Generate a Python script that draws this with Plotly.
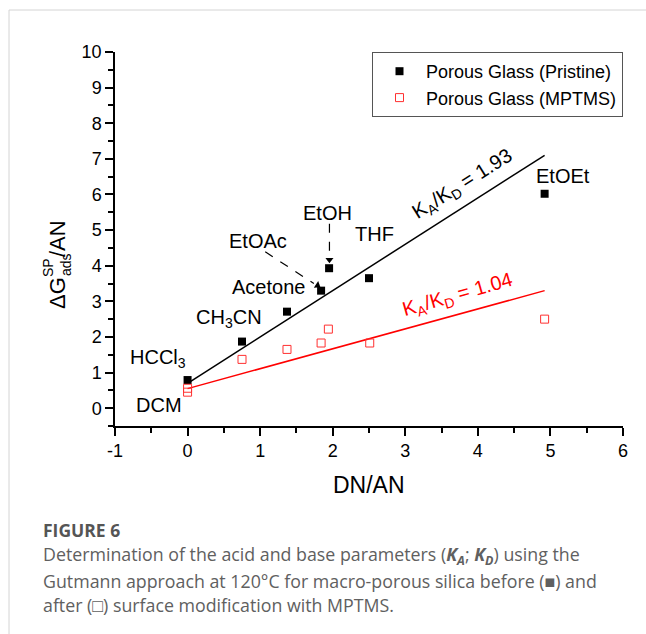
import plotly.graph_objects as go

# ---- data ----
dn_an_pristine = [0.0, 0.75, 1.37, 1.84, 1.95, 2.50, 4.92]
g_pristine = [0.79, 1.87, 2.71, 3.30, 3.93, 3.65, 6.02]

dn_an_mptms = [0.0, 0.0, 0.75, 1.37, 1.84, 1.94, 2.51, 4.92]
g_mptms = [0.56, 0.45, 1.37, 1.65, 1.83, 2.22, 1.83, 2.50]

fit_x = [0.0, 4.92]
fit_pristine = [0.70, 7.10]
fit_mptms = [0.55, 3.30]

x_ticks = [-1, 0, 1, 2, 3, 4, 5, 6]
x_ticktext = ["-1", "0", "1", "2", "3", "4", "5", "6"]
y_ticks = [0, 1, 2, 3, 4, 5, 6, 7, 8, 9, 10]

labels = ["HCCl<sub>3</sub>", "DCM", "CH<sub>3</sub>CN", "Acetone", "EtOAc", "EtOH", "THF", "EtOEt"]
label_x = [-0.41, -0.39, 0.57, 1.12, 0.97, 1.93, 2.58, 5.17]
label_y = [1.40, 0.09, 2.52, 3.40, 4.68, 5.49, 4.90, 6.51]

FONT = "Liberation Sans, Arial, sans-serif"
W, H = 646, 634
L, R, T, B = 115, 23, 52, 208
PW, PH = W - L - R, H - T - B


def px(xp):
    return (xp - L) / PW


def py(yp):
    return (H - B - yp) / PH


fig = go.Figure()

fig.add_trace(go.Scatter(x=fit_x, y=fit_pristine, mode="lines",
                         line=dict(color="black", width=1.5), showlegend=False, hoverinfo="skip"))
fig.add_trace(go.Scatter(x=fit_x, y=fit_mptms, mode="lines",
                         line=dict(color="#ff0000", width=1.5), showlegend=False, hoverinfo="skip"))
fig.add_trace(go.Scatter(x=dn_an_pristine, y=g_pristine, mode="markers",
                         name="Porous Glass (Pristine)",
                         marker=dict(symbol="square", size=8, color="black")))
fig.add_trace(go.Scatter(x=dn_an_mptms, y=g_mptms, mode="markers",
                         name="Porous Glass (MPTMS)",
                         marker=dict(symbol="square-open", size=8, color="#ff3030",
                                     line=dict(width=1))))
# arrow heads for the dashed pointer arrows
fig.add_trace(go.Scatter(x=[1.79, 1.955], y=[3.45, 4.17], mode="markers", showlegend=False,
                         hoverinfo="skip",
                         marker=dict(symbol="triangle-right", size=7, color="black",
                                     angle=[33, 90])))

annotations = []
for t, xx, yy in zip(labels, label_x, label_y):
    annotations.append(dict(x=xx, y=yy, xref="x", yref="y", text=t, showarrow=False,
                            font=dict(family=FONT, size=20, color="black"),
                            xanchor="center", yanchor="middle"))

# fit labels
annotations.append(dict(x=3.79, y=6.28, xref="x", yref="y",
                        text="K<sub>A</sub>/K<sub>D</sub> = 1.93", showarrow=False, textangle=-32,
                        font=dict(family=FONT, size=20, color="black")))
annotations.append(dict(x=3.72, y=3.17, xref="x", yref="y",
                        text="K<sub>A</sub>/K<sub>D</sub> = 1.04", showarrow=False, textangle=-16,
                        font=dict(family=FONT, size=20, color="#ff0000")))

# y-axis title built from pieces (stacked super/subscript)
annotations += [
    dict(x=px(57), y=py(293), xref="paper", yref="paper", text="\u0394G", textangle=-90,
         showarrow=False, font=dict(family=FONT, size=22, color="black"),
         xanchor="center", yanchor="middle"),
    dict(x=px(48), y=py(268), xref="paper", yref="paper", text="SP", textangle=-90,
         showarrow=False, font=dict(family=FONT, size=14, color="black"),
         xanchor="center", yanchor="middle"),
    dict(x=px(66), y=py(265), xref="paper", yref="paper", text="ads", textangle=-90,
         showarrow=False, font=dict(family=FONT, size=14, color="black"),
         xanchor="center", yanchor="middle"),
    dict(x=px(57), y=py(239), xref="paper", yref="paper", text="/AN", textangle=-90,
         showarrow=False, font=dict(family=FONT, size=22, color="black"),
         xanchor="center", yanchor="middle"),
]

# x-axis title
annotations.append(dict(x=px(369), y=py(485), xref="paper", yref="paper", text="DN/AN",
                        showarrow=False, font=dict(family=FONT, size=23, color="black"),
                        xanchor="center", yanchor="middle"))

# caption
CAP = "Open Sans, Noto Sans, sans-serif"
cap_color = "#606060"
annotations.append(dict(x=px(41), y=py(530), xref="paper", yref="paper", text="<b>FIGURE 6</b>",
                        showarrow=False, font=dict(family=CAP, size=17.5, color="#555555"),
                        xanchor="left", yanchor="middle"))
cap_lines = [
    "Determination of the acid and base parameters (<b><i>K<sub>A</sub></i></b>; <b><i>K<sub>D</sub></i></b>) using the",
    "Gutmann approach at 120\u00b0C for macro-porous silica before (\u25a0) and",
    "after (\u25a1) surface modification with MPTMS.",
]
cap_y = [555, 581, 605]
for line, yy in zip(cap_lines, cap_y):
    annotations.append(dict(x=px(41), y=py(yy), xref="paper", yref="paper", text=line,
                            showarrow=False, font=dict(family=CAP, size=17.8, color=cap_color),
                            xanchor="left", yanchor="middle"))

shapes = [
    # dashed arrow shafts
    dict(type="line", xref="x", yref="y", x0=1.07, y0=4.39, x1=1.74, y1=3.50,
         line=dict(color="black", width=1.2, dash="dash")),
    dict(type="line", xref="x", yref="y", x0=1.955, y0=5.18, x1=1.955, y1=4.25,
         line=dict(color="black", width=1.2, dash="dash")),
    # card border (top and left)
    dict(type="line", xref="paper", yref="paper", x0=px(9), y0=py(10), x1=px(646), y1=py(10),
         line=dict(color="#d4d4d4", width=1)),
    dict(type="line", xref="paper", yref="paper", x0=px(9), y0=py(10), x1=px(9), y1=py(634),
         line=dict(color="#d4d4d4", width=1)),
]

axis_common = dict(showgrid=False, zeroline=False, showline=True, linecolor="black", linewidth=1.5,
                   ticks="outside", ticklen=8, tickwidth=1.5, tickcolor="black",
                   tickfont=dict(family=FONT, size=18, color="black"),
                   minor=dict(ticks="outside", ticklen=5, tickwidth=1.5, tickcolor="black", dtick=0.5))

fig.update_xaxes(range=[-1, 6], tickvals=x_ticks, ticktext=x_ticktext, **axis_common)
fig.update_yaxes(range=[-0.5, 10], tickvals=y_ticks, **axis_common)

fig.update_layout(
    width=W, height=H,
    margin=dict(l=L, r=R, t=T, b=B),
    paper_bgcolor="white", plot_bgcolor="white",
    showlegend=True,
    legend=dict(x=1, y=1, xanchor="right", yanchor="top", bordercolor="#555555", borderwidth=1,
                bgcolor="white", font=dict(family=FONT, size=18, color="black"),
                tracegroupgap=0, itemwidth=43),
    annotations=annotations,
    shapes=shapes,
)

fig.write_html("out.html")
